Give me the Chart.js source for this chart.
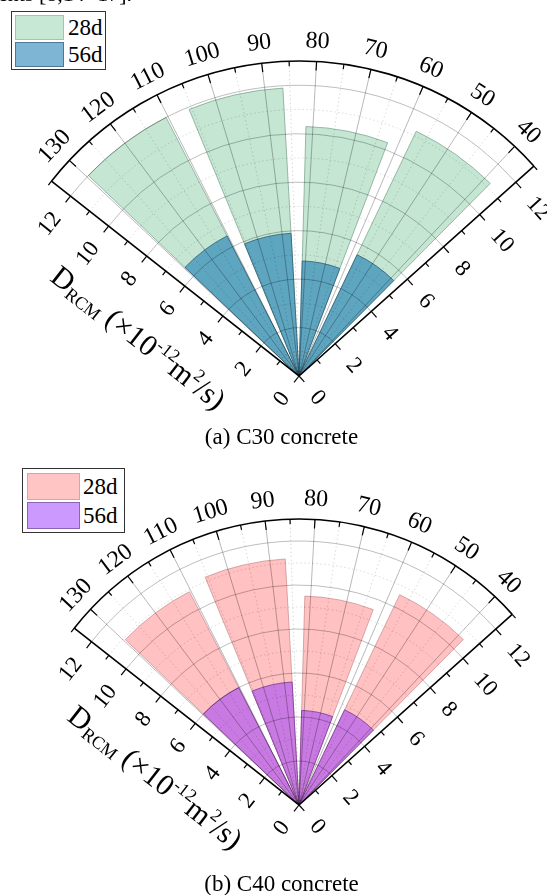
<!DOCTYPE html>
<html>
<head>
<meta charset="utf-8">
<script src="https://cdn.jsdelivr.net/npm/chart.js@4"></script>
<style>
html,body{margin:0;padding:0;background:#fff;}
#page{position:relative;width:547px;height:895px;overflow:hidden;font-family:"Liberation Serif","Times New Roman",serif;color:#000;background:#fff;}
canvas{position:absolute;}
.legend{position:absolute;border:1.5px solid #333;background:#fff;z-index:5;box-sizing:border-box;}
.sw{position:absolute;box-sizing:border-box;border:1px solid;}
.lt{position:absolute;font-size:23px;line-height:23px;}
.caption{position:absolute;left:0;width:563px;text-align:center;font-size:23px;line-height:26px;z-index:5;}
.topline{position:absolute;left:-2px;top:-17px;font-size:22px;line-height:22px;z-index:5;white-space:nowrap;}
</style>
</head>
<body>
<div id="page">
  <div class="topline">ents [8,14−17].</div>
  <canvas id="cA" width="800" height="800" style="left:-101px;top:-24px;width:800px;height:800px;"></canvas>
  <canvas id="cB" width="800" height="800" style="left:-101px;top:405px;width:800px;height:800px;"></canvas>
  <div id="legA" class="legend" style="left:11px;top:11px;width:95px;height:59px;"></div>
  <div id="legB" class="legend" style="left:22px;top:468px;width:103px;height:65px;"></div>
  <div class="caption" style="top:424px;">(a) C30 concrete</div>
  <div class="caption" style="top:871px;">(b) C40 concrete</div>
</div>
<script>
// ---------------- data ----------------
const seriesNames = ['28d', '56d'];
const barAngles = [120, 96, 72, 48];          // angular position of each bar group (deg)
const angleTickLabels = [40, 50, 60, 70, 80, 90, 100, 110, 120, 130];
const radialTickLabels = [0, 2, 4, 6, 8, 10, 12];
const c30_28d = [12.0, 11.9, 10.3, 11.2];
const c30_56d = [6.5, 5.9, 4.75, 5.55];
const c40_28d = [10.9, 11.2, 9.5, 10.6];
const c40_56d = [6.0, 5.6, 4.3, 4.8];

// ---------------- frame settings ----------------
const ANG_MIN = 35, ANG_MAX = 135, R_MAX = 13;
const BAR_WIDTH = 19.2;      // angular width of a bar (deg)
const OFFSET = 6.8;          // rotation of the polar frame (deg)
const FONT = '"Liberation Serif","Times New Roman",serif';
Chart.defaults.font.family = FONT;

function makeSegments(values) {
  const data = [], angles = [], isBar = [], labels = [];
  barAngles.forEach((a, i) => {
    data.push(values[i]); angles.push(BAR_WIDTH); isBar.push(true); labels.push(String(a));
    if (i < barAngles.length - 1) {
      data.push(0); angles.push(a - barAngles[i + 1] - BAR_WIDTH); isBar.push(false); labels.push('');
    }
  });
  return {data, angles, isBar, labels};
}

function fanPlugin(geo) {
  return {
    id: 'fan',
    afterDatasetsDraw(chart) {
      const s = chart.scales.r;
      const cx = s.xCenter, cy = s.yCenter;
      const rad = v => s.getDistanceFromCenterForValue(v);
      const th = d => (d + OFFSET) * Math.PI / 180;
      const pt = (r, t) => [cx + r * Math.cos(t), cy - r * Math.sin(t)];
      const ctx = chart.ctx;
      const RO = rad(R_MAX);
      ctx.save();
      // circular grid
      for (let v = 1; v < R_MAX; v++) {
        const major = v % 2 === 0;
        ctx.beginPath();
        ctx.setLineDash(major ? [] : [1.5, 2.5]);
        ctx.strokeStyle = major ? 'rgba(0,0,0,0.26)' : 'rgba(0,0,0,0.17)';
        ctx.lineWidth = major ? 1 : 0.9;
        ctx.arc(cx, cy, rad(v), -th(ANG_MAX), -th(ANG_MIN), false);
        ctx.stroke();
      }
      // angular grid
      for (let d = ANG_MIN + 5; d < ANG_MAX; d += 5) {
        const major = d % 10 === 0;
        ctx.beginPath();
        ctx.setLineDash(major ? [] : [1.5, 2.5]);
        ctx.strokeStyle = major ? 'rgba(0,0,0,0.28)' : 'rgba(0,0,0,0.17)';
        ctx.lineWidth = major ? 1 : 0.9;
        ctx.moveTo(cx, cy);
        ctx.lineTo(...pt(RO, th(d)));
        ctx.stroke();
      }
      ctx.setLineDash([]);
      // frame
      ctx.strokeStyle = '#000';
      ctx.lineWidth = 1.6;
      ctx.beginPath();
      ctx.arc(cx, cy, RO, -th(ANG_MAX), -th(ANG_MIN), false);
      ctx.stroke();
      ctx.beginPath();
      ctx.moveTo(...pt(RO, th(ANG_MAX)));
      ctx.lineTo(cx, cy);
      ctx.lineTo(...pt(RO, th(ANG_MIN)));
      ctx.stroke();
      // angular ticks
      ctx.lineWidth = 1.2;
      for (let d = ANG_MIN + 5; d < ANG_MAX; d += 5) {
        const len = d % 10 === 0 ? 9 : 5;
        ctx.beginPath();
        ctx.moveTo(...pt(RO, th(d)));
        ctx.lineTo(...pt(RO - len, th(d)));
        ctx.stroke();
      }
      // angular labels
      ctx.fillStyle = '#000';
      ctx.font = '24px ' + FONT;
      ctx.textAlign = 'center';
      ctx.textBaseline = 'middle';
      angleTickLabels.forEach(d => {
        const p = pt(RO + geo.angLabelGap, th(d));
        ctx.save();
        ctx.translate(p[0], p[1]);
        ctx.rotate(Math.PI / 2 - th(d));
        ctx.fillText(String(d), 0, 1);
        ctx.restore();
      });
      // radial axes ticks and labels
      ctx.font = '23px ' + FONT;
      [[ANG_MAX, 1], [ANG_MIN, -1]].forEach(([axD, sgn]) => {
        const t = th(axD);
        const n = t + sgn * Math.PI / 2;
        const nv = [Math.cos(n), -Math.sin(n)];
        ctx.lineWidth = 1.2;
        for (let v = 0; v <= R_MAX; v++) {
          const len = v % 2 === 0 ? 8 : 5;
          const b = pt(rad(v), t);
          ctx.beginPath();
          ctx.moveTo(b[0], b[1]);
          ctx.lineTo(b[0] + len * nv[0], b[1] + len * nv[1]);
          ctx.stroke();
        }
        radialTickLabels.forEach(v => {
          const b = pt(rad(v), t);
          const w = ctx.measureText(String(v)).width;
          const off = 8 + 15 + w / 2;
          ctx.save();
          ctx.translate(b[0] + off * nv[0], b[1] + off * nv[1]);
          ctx.rotate(Math.PI / 2 - t);
          ctx.fillText(String(v), 0, 1);
          ctx.restore();
        });
      });
      // axis title along left axis
      const tL = th(ANG_MAX);
      const a = pt(geo.titleAlong * RO, tL);
      const main = '30px ' + FONT, sub = '18px ' + FONT;
      const parts = [
        {t: 'D', f: main, dy: 0},
        {t: 'RCM', f: sub, dy: 4},
        {t: ' (\u00d710', f: main, dy: 0},
        {t: '-12', f: sub, dy: -12},
        {t: 'm', f: main, dy: 0},
        {t: '2', f: sub, dy: -12},
        {t: '/s)', f: main, dy: 0}
      ];
      let total = 0;
      parts.forEach(p => { ctx.font = p.f; p.w = ctx.measureText(p.t).width; total += p.w; });
      ctx.save();
      ctx.translate(a[0], a[1]);
      ctx.rotate(Math.PI - tL);
      ctx.textAlign = 'left';
      ctx.textBaseline = 'alphabetic';
      let x = -total / 2;
      parts.forEach(p => { ctx.font = p.f; ctx.fillText(p.t, x, geo.titleBase + p.dy); x += p.w; });
      ctx.restore();
      ctx.restore();
    }
  };
}

function makeChart(id, v28, v56, col, geo) {
  const s28 = makeSegments(v28), s56 = makeSegments(v56);
  const startAngle = 90 - (barAngles[0] + BAR_WIDTH / 2 + OFFSET);
  const ds = (name, seg, fill, edge) => ({
    label: name,
    data: seg.data,
    angle: c => seg.angles[c.dataIndex],
    backgroundColor: seg.isBar.map(b => b ? fill : 'rgba(0,0,0,0)'),
    borderColor: seg.isBar.map(b => b ? edge : 'rgba(0,0,0,0)'),
    borderWidth: seg.isBar.map(b => b ? 0.9 : 0)
  });
  return new Chart(document.getElementById(id), {
    type: 'polarArea',
    data: {
      labels: s28.labels,
      datasets: [
        ds(seriesNames[1], s56, col.fill56, col.edge56),
        ds(seriesNames[0], s28, col.fill28, col.edge28)
      ]
    },
    options: {
      responsive: false,
      animation: false,
      events: [],
      layout: {padding: geo.pad},
      plugins: {legend: {display: false}, tooltip: {enabled: false}},
      scales: {
        r: {
          min: 0, max: R_MAX,
          startAngle: startAngle,
          grid: {display: false},
          angleLines: {display: false},
          ticks: {display: false},
          pointLabels: {display: false}
        }
      }
    },
    plugins: [fanPlugin(geo)]
  });
}

function makeLegend(id, col, g) {
  const el = document.getElementById(id);
  const items = [[seriesNames[0], col.leg28, col.legEdge28], [seriesNames[1], col.leg56, col.legEdge56]];
  items.forEach((it, i) => {
    const sw = document.createElement('div');
    sw.className = 'sw';
    sw.style.cssText = `left:${g.swL}px;top:${g.swT + i * g.rowH}px;width:${g.swW}px;height:${g.swH}px;background:${it[1]};border-color:${it[2]};`;
    el.appendChild(sw);
    const t = document.createElement('div');
    t.className = 'lt';
    t.textContent = it[0];
    t.style.cssText = `left:${g.txL}px;top:${g.swT + i * g.rowH + g.swH / 2 - 12}px;`;
    el.appendChild(t);
  });
}

const colA = {fill28: 'rgb(196,230,211)', edge28: 'rgba(120,160,140,0.8)', fill56: 'rgb(94,165,192)', edge56: 'rgba(50,95,120,0.9)',
  leg28: 'rgb(199,232,213)', legEdge28: 'rgb(165,195,178)', leg56: 'rgb(126,180,212)', legEdge56: 'rgb(80,120,150)'};
const colB = {fill28: 'rgb(255,193,193)', edge28: 'rgba(200,140,140,0.8)', fill56: 'rgb(201,121,226)', edge56: 'rgba(120,60,150,0.9)',
  leg28: 'rgb(255,196,196)', legEdge28: 'rgb(215,165,165)', leg56: 'rgb(204,153,255)', legEdge56: 'rgb(140,100,180)'};

makeChart('cA', c30_28d, c30_56d, colA, {pad: 85, angLabelGap: 21, titleAlong: 0.476, titleBase: 79});
makeChart('cB', c40_28d, c40_56d, colB, {pad: 114, angLabelGap: 21, titleAlong: 0.455, titleBase: 77});
makeLegend('legA', colA, {swL: 3, swT: 3, swW: 49, swH: 25, rowH: 27, txL: 56});
makeLegend('legB', colB, {swL: 4, swT: 4, swW: 53, swH: 27, rowH: 29, txL: 60});
</script>
</body>
</html>
